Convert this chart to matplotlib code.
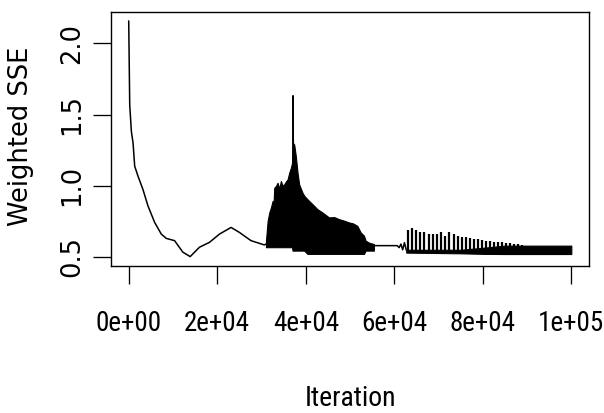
import matplotlib
matplotlib.use('Agg')
import matplotlib.pyplot as plt
from matplotlib import font_manager

# smooth descent before the oscillations start
curve_x = [0, 225, 600, 980, 1350, 2100, 3200, 4350, 5860, 7360, 8480, 10360,
           12230, 13890, 15990, 18240, 20500, 23130, 25000, 27630, 30630, 31010]
curve_y = [2.156, 1.568, 1.381, 1.30, 1.137, 1.067, 0.975, 0.858, 0.742, 0.66, 0.63, 0.614,
           0.533, 0.502, 0.568, 0.602, 0.66, 0.707, 0.672, 0.614, 0.584, 0.59]

# first dense burst (envelope)
band1_x = [31010, 31390, 31760, 32130, 32510, 32700, 32880, 33260, 33630, 34010,
           34380, 34760, 35140, 35520, 35890, 36260, 36640, 36900, 37010, 37120,
           37390, 37760, 38140, 38510, 39260, 39640, 40380, 41520, 42640, 43770,
           45270, 46400, 47520, 48600, 49770, 50700, 51650, 52400, 53150, 53530,
           54280, 55400]
band1_hi = [0.614, 0.753, 0.812, 0.847, 0.893, 0.86, 0.986, 0.998, 1.021, 0.98,
            1.033, 1.00, 1.01, 1.03, 1.044, 1.091, 1.126, 1.16, 1.637, 1.30,
            1.289, 1.207, 1.091, 1.009, 0.951, 0.93, 0.905, 0.87, 0.835, 0.812,
            0.777, 0.78, 0.765, 0.755, 0.742, 0.735, 0.718, 0.672, 0.649, 0.614,
            0.60, 0.59]
band1_lo = [0.568, 0.568, 0.568, 0.568, 0.568, 0.568, 0.568, 0.568, 0.568, 0.568,
            0.568, 0.568, 0.568, 0.568, 0.568, 0.568, 0.568, 0.568, 0.544, 0.544,
            0.544, 0.544, 0.544, 0.544, 0.544, 0.544, 0.521, 0.521, 0.521, 0.521,
            0.521, 0.521, 0.521, 0.521, 0.521, 0.521, 0.521, 0.521, 0.521, 0.544,
            0.544, 0.544]

# quiet stretch
flat_x = [55400, 57000, 59000, 60660, 61100, 61500, 61900, 62300, 62700]
flat_y = [0.579, 0.579, 0.579, 0.579, 0.565, 0.59, 0.55, 0.60, 0.55]

# second phase: spikes above a dense lower band
spike_x = [63130, 64030, 64930, 65920, 66820, 67790, 68690, 69660, 70560, 71550,
           72450, 73420, 74320, 75290, 76190, 77060, 77930, 78900, 79800, 80700,
           81690, 82590, 83400, 84300, 85200, 86040, 86940, 87910, 88800, 89570]
spike_hi = [0.691, 0.700, 0.691, 0.677, 0.672, 0.661, 0.661, 0.661, 0.672, 0.649,
            0.672, 0.661, 0.649, 0.637, 0.637, 0.630, 0.626, 0.626, 0.621, 0.614,
            0.614, 0.607, 0.602, 0.602, 0.598, 0.595, 0.591, 0.591, 0.586, 0.579]
spike_lo = [0.535, 0.530, 0.530, 0.528, 0.528, 0.528, 0.527, 0.527, 0.526, 0.526,
            0.525, 0.525, 0.525, 0.524, 0.524, 0.523, 0.523, 0.522, 0.522, 0.521,
            0.521, 0.521, 0.520, 0.520, 0.520, 0.519, 0.519, 0.519, 0.518, 0.518]

band2_x = [62700, 75000, 80400, 85000, 100000]
band2_hi = [0.55, 0.55, 0.565, 0.579, 0.579]
band2_lo = [0.53, 0.525, 0.521, 0.52, 0.52]

xticks = [0, 20000, 40000, 60000, 80000, 100000]
xtick_labels = ['0e+00', '2e+04', '4e+04', '6e+04', '8e+04', '1e+05']
yticks = [0.5, 1.0, 1.5, 2.0]
ytick_labels = ['0.5', '1.0', '1.5', '2.0']

# look for a condensed face for the x axis texts
installed = {f.name for f in font_manager.fontManager.ttflist}
narrow = 'Liberation Sans'
narrow_size = 17
for cand in ['Liberation Sans Narrow', 'Roboto Condensed', 'DejaVu Sans Condensed',
             'Open Sans Condensed']:
    if cand in installed:
        narrow = cand
        narrow_size = 19.5
        break

fig = plt.figure(figsize=(6.04, 4.13), dpi=100)
ax = fig.add_axes([0.1838, 0.3559, 0.7914, 0.6157])

ax.plot(curve_x, curve_y, color='black', lw=1.1)
ax.fill_between(band1_x, band1_lo, band1_hi, color='black', lw=0.8)
ax.plot(flat_x, flat_y, color='black', lw=1.1)
ax.fill_between(band2_x, band2_lo, band2_hi, color='black', lw=0.8)
ax.vlines(spike_x, spike_lo, spike_hi, color='black', lw=1.6)

# R style 4% padding
all_y = curve_y + band1_hi + band1_lo + spike_hi + spike_lo
ymin, ymax = min(all_y), max(all_y)
pad = 0.04 * (ymax - ymin)
ax.set_ylim(ymin - pad, ymax + pad)
ax.set_xlim(-4000, 104000)

ax.set_xticks(xticks)
ax.set_xticklabels(xtick_labels, family=narrow, fontsize=narrow_size)
ax.set_yticks(yticks)
ax.set_yticklabels(ytick_labels, family='DejaVu Sans', fontsize=18.5,
                   rotation=90, va='center')
ax.tick_params(axis='x', length=13, width=0.95, pad=19)
ax.tick_params(axis='y', length=13, width=0.95, pad=5.5)

ax.set_xlabel('Iteration', family=narrow, fontsize=narrow_size + 0.5)
ax.xaxis.set_label_coords(0.5, -0.466)
ax.set_ylabel('Weighted SSE', family='DejaVu Sans', fontsize=18.5)
ax.yaxis.set_label_coords(-0.162, 0.51)

for s in ax.spines.values():
    s.set_linewidth(1.0)
    s.set_color('black')

plt.savefig('out.png', dpi=100)
